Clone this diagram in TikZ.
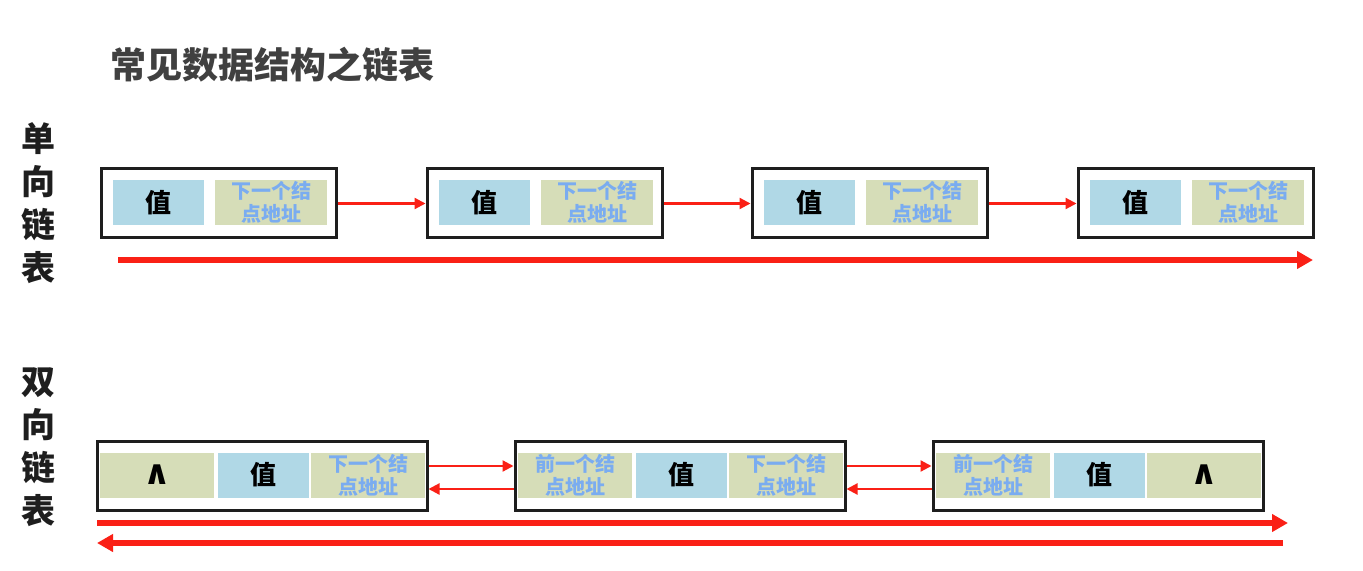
\documentclass[tikz,border=0pt]{standalone}
\usepackage{fontspec}
\setmainfont{Noto Sans CJK SC}
\newfontfamily\symfont{DejaVu Sans}
\usetikzlibrary{arrows.meta,positioning,calc}
\definecolor{ink}{RGB}{30,30,30}
\definecolor{titlegray}{RGB}{64,64,64}
\definecolor{valblue}{RGB}{176,216,230}
\definecolor{ptrkhaki}{RGB}{214,221,184}
\definecolor{ptrtext}{RGB}{122,172,240}
\definecolor{linkred}{RGB}{250,32,22}
\tikzset{
  box/.style={draw=ink,line width=1.5pt,inner sep=0pt,minimum height=34.5pt},
  cell/.style={inner sep=0pt,minimum height=22.5pt,font=\bfseries},
  valcell/.style={cell,fill=valblue,minimum width=45.5pt,font=\fontsize{13}{15}\selectfont\bfseries},
  ptrcell/.style={cell,fill=ptrkhaki,minimum width=57pt,text=ptrtext,align=center,
    font=\fontsize{10}{11.5}\selectfont\bfseries},
  nilcell/.style={cell,fill=ptrkhaki,minimum width=57pt,font=\fontsize{17}{18}\symfont\bfseries},
  ln/.style={linkred,line width=1.1pt,-{Triangle[length=5.5pt,width=5.5pt]}},
  bigln/.style={linkred,line width=2.6pt,-{Triangle[length=8pt,width=8.5pt]}},
  side/.style={align=center,text=ink,font=\fontsize{17}{21.5}\selectfont\bfseries},
}
\begin{document}
\begin{tikzpicture}[x=0.5pt,y=-0.5pt]
  \useasboundingbox (0,0) rectangle (1363,571);
  \fill[white] (0,0) rectangle (1363,571);
  % title and side labels
  \node[anchor=west,text=titlegray,font=\fontsize{18}{20}\selectfont\bfseries] (title) at (103,65) {常见数据结构之链表};
  \node[side] (single) at (38,203) {单\\向\\链\\表};
  \node[side] (double) at (38,447.5) {双\\向\\链\\表};
  % singly linked list
  \foreach \i/\x in {1/101,2/427,3/752,4/1078} {
    \node[box,minimum width=117.5pt] (s\i) at (\x+117.5,203.5) {};
    \node[valcell] (sv\i) at (\x+57,202.5) {值};
    \node[ptrcell,minimum width=56pt] (sn\i) at (\x+170,202.5) {下一个结\\点地址};
  }
  \foreach \a/\b in {1/2,2/3,3/4}
    \draw[ln] (s\a.east) -- (s\b.west);
  \coordinate (sfrom) at (118,260);
  \coordinate (sto) at (1313,260);
  \draw[bigln] (sfrom) -- (sto);
  % doubly linked list
  \foreach \i/\x in {1/97,2/515,3/933}
    \node[box,minimum width=165pt] (d\i) at (\x+165,475.5) {};
  \node[nilcell] (dp1) at (157,475) {∧};
  \node[valcell] (dv1) at (263,475) {值};
  \node[ptrcell] (dn1) at (368,475) {下一个结\\点地址};
  \node[ptrcell] (dp2) at (575,475) {前一个结\\点地址};
  \node[valcell] (dv2) at (681,475) {值};
  \node[ptrcell] (dn2) at (786,475) {下一个结\\点地址};
  \node[ptrcell] (dp3) at (993,475) {前一个结\\点地址};
  \node[valcell] (dv3) at (1099,475) {值};
  \node[nilcell] (dn3) at (1204,475) {∧};
  \foreach \a/\b in {1/2,2/3} {
    \draw[ln] ([yshift=4.75pt]d\a.east) -- ([yshift=4.75pt]d\b.west);
    \draw[ln] ([yshift=-6.75pt]d\b.west) -- ([yshift=-6.75pt]d\a.east);
  }
  \coordinate (dfrom) at (97,523);
  \coordinate (dto) at (1288,523);
  \coordinate (bfrom) at (1283,543);
  \coordinate (bto) at (97,543);
  \draw[bigln] (dfrom) -- (dto);
  \draw[bigln] (bfrom) -- (bto);
\end{tikzpicture}
\end{document}
